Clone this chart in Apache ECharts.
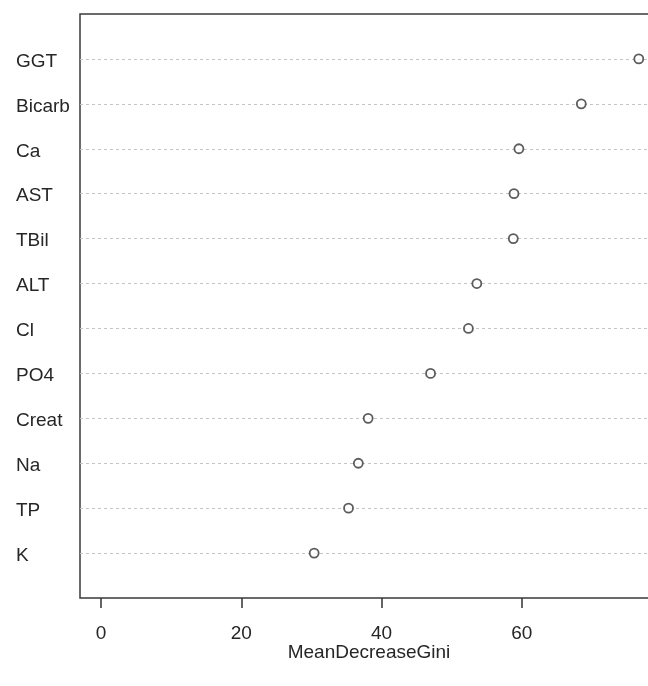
<!DOCTYPE html>
<html>
<head>
<meta charset="utf-8">
<script src="https://cdn.jsdelivr.net/npm/echarts@6/dist/echarts.min.js"></script>
<style>
  html, body { margin: 0; padding: 0; background: #fff; }
  #chart { width: 648px; height: 686px; }
</style>
</head>
<body>
<div id="chart"></div>
<script>
// Variable importance (random forest), top to bottom
const categories = ['GGT', 'Bicarb', 'Ca', 'AST', 'TBil', 'ALT', 'Cl', 'PO4', 'Creat', 'Na', 'TP', 'K'];
const meanDecreaseGini = [76.7, 68.5, 59.6, 58.9, 58.8, 53.6, 52.4, 47.0, 38.1, 36.7, 35.3, 30.4];
const xTicks = [0, 20, 40, 60];

const n = categories.length;
// row positions 1..n, first category at the top
const rowPos = categories.map((_, i) => n - i);
const points = meanDecreaseGini.map((v, i) => [v, rowPos[i]]);

const font = '"Liberation Sans", Arial, sans-serif';
const textColor = '#262626';
const chart = echarts.init(document.getElementById('chart'), null, { renderer: 'canvas' });

chart.setOption({
  animation: false,
  backgroundColor: '#ffffff',
  grid: {
    left: 80, top: 14, width: 570, height: 584,
    show: true, borderColor: '#3a3a3a', borderWidth: 1.5,
    containLabel: false,
    outerBoundsMode: 'none'
  },
  xAxis: {
    type: 'value',
    min: -3, max: 78.3,
    name: 'MeanDecreaseGini',
    nameLocation: 'middle',
    nameGap: 45,
    nameMoveOverlap: false,
    nameTextStyle: { fontFamily: font, fontSize: 19, color: textColor, padding: [0, 0, 0, 8] },
    axisLine: { show: false },
    axisTick: { show: true, length: 10, customValues: xTicks, lineStyle: { color: '#333', width: 1.5 } },
    axisLabel: { customValues: xTicks, margin: 26, fontFamily: font, fontSize: 19, color: textColor },
    splitLine: { show: false }
  },
  yAxis: {
    type: 'value',
    min: 0, max: n + 1, interval: 1,
    axisLine: { show: false },
    axisTick: { show: false },
    axisLabel: {
      align: 'left', margin: 64,
      fontFamily: font, fontSize: 19, color: textColor,
      showMinLabel: false, showMaxLabel: false,
      formatter: v => (v >= 1 && v <= n) ? '{lbl|' + categories[n - v] + '}' : '',
      rich: {
        lbl: { fontFamily: font, fontSize: 19, color: textColor, padding: [5, 0, 0, 0] }
      }
    },
    splitLine: {
      show: true, showMinLine: false, showMaxLine: false,
      lineStyle: { color: '#c4c4c4', type: [3, 3], width: 1 }
    }
  },
  series: [{
    type: 'scatter',
    data: points,
    symbol: 'circle',
    symbolSize: 9,
    itemStyle: { color: '#ffffff', borderColor: '#333', borderWidth: 1.8 },
    z: 5
  }]
});
</script>
</body>
</html>
